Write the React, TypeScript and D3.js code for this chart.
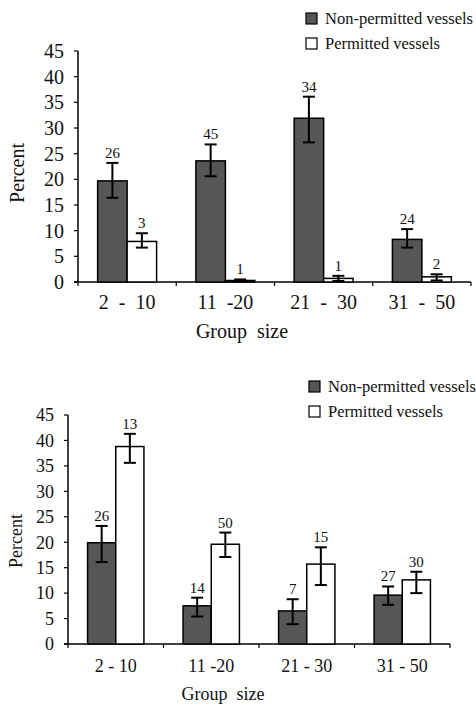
import React, { useEffect, useRef } from 'react';
import * as d3 from 'd3';

const groups = ['g1', 'g2', 'g3', 'g4'];
const seriesNames = ['Non-permitted vessels', 'Permitted vessels'];
const yTicks = [0, 5, 10, 15, 20, 25, 30, 35, 40, 45];

// top panel
const topLabels = ['2  -  10', '11  -20', '21  -  30', '31  -  50'];
const topNonPermitted = [19.7, 23.6, 31.9, 8.3];
const topNonPermittedLo = [16.4, 20.6, 27.2, 6.7];
const topNonPermittedHi = [23.2, 26.8, 36.1, 10.3];
const topNonPermittedN = ['26', '45', '34', '24'];
const topPermitted = [7.9, 0.3, 0.7, 1.0];
const topPermittedLo = [6.7, 0.1, 0.2, 0.3];
const topPermittedHi = [9.5, 0.5, 1.2, 1.5];
const topPermittedN = ['3', '1', '1', '2'];

// bottom panel
const bottomLabels = ['2 - 10', '11 -20', '21 - 30', '31 - 50'];
const botNonPermitted = [19.9, 7.5, 6.5, 9.6];
const botNonPermittedLo = [16.1, 5.4, 3.9, 7.7];
const botNonPermittedHi = [23.2, 9.1, 8.8, 11.3];
const botNonPermittedN = ['26', '14', '7', '27'];
const botPermitted = [38.8, 19.6, 15.7, 12.6];
const botPermittedLo = [35.6, 17.1, 11.6, 10.0];
const botPermittedHi = [41.3, 21.9, 19.0, 14.2];
const botPermittedN = ['13', '50', '15', '30'];

const DARK = '#565656';
const FONT = 'Liberation Serif';

type Panel = {
  x0: number; x1: number; y0: number; y1: number;
  labels: string[];
  vals: number[][]; lo: number[][]; hi: number[][]; ns: string[][];
  tickFont: number; xFont: number; xLabelY: number; titleY: number; titleX: number;
  percentX: number; percentY: number;
  legX: number; legY: number; legGap: number; legFont: number;
  padding: number;
};

const panels: Panel[] = [
  {
    x0: 78, x1: 471, y0: 282, y1: 51,
    labels: topLabels,
    vals: [topNonPermitted, topPermitted],
    lo: [topNonPermittedLo, topPermittedLo],
    hi: [topNonPermittedHi, topPermittedHi],
    ns: [topNonPermittedN, topPermittedN],
    tickFont: 20, xFont: 20, xLabelY: 309, titleY: 338, titleX: 242,
    percentX: 24, percentY: 173,
    legX: 306, legY: 13, legGap: 25, legFont: 16.5,
    padding: 0.4,
  },
  {
    x0: 68, x1: 450, y0: 644, y1: 415,
    labels: bottomLabels,
    vals: [botNonPermitted, botPermitted],
    lo: [botNonPermittedLo, botPermittedLo],
    hi: [botNonPermittedHi, botPermittedHi],
    ns: [botNonPermittedN, botPermittedN],
    tickFont: 18, xFont: 18, xLabelY: 672, titleY: 700, titleX: 223,
    percentX: 22, percentY: 541,
    legX: 309, legY: 381, legGap: 25, legFont: 16.5,
    padding: 0.41,
  },
];

const App = () => {
  const svgRef = useRef<SVGSVGElement>(null);

  useEffect(() => {
    const svg = d3.select(svgRef.current);
    svg.selectAll('*').remove();

    const txt = (g: any, size: number) =>
      g.append('text').attr('font-family', FONT).attr('font-size', size).attr('fill', '#111');

    panels.forEach((p) => {
      const g = svg.append('g');
      const x = d3.scaleBand<string>().domain(groups).range([p.x0, p.x1])
        .paddingInner(p.padding).paddingOuter(p.padding / 2);
      const xs = d3.scaleBand<number>().domain([0, 1]).range([0, x.bandwidth()]);
      const y = d3.scaleLinear().domain([0, 45]).range([p.y0, p.y1]);

      // y axis
      g.append('line').attr('x1', p.x0).attr('x2', p.x0).attr('y1', y(0)).attr('y2', y(45))
        .attr('stroke', '#000').attr('stroke-width', 1.5);
      yTicks.forEach((t) => {
        g.append('line').attr('x1', p.x0 - 4).attr('x2', p.x0).attr('y1', y(t)).attr('y2', y(t))
          .attr('stroke', '#000').attr('stroke-width', 1.2);
        txt(g, p.tickFont).attr('x', p.x0 - 14).attr('y', y(t)).attr('dy', '0.35em')
          .attr('text-anchor', 'end').text(t);
      });

      // x axis
      g.append('line').attr('x1', p.x0 - 4).attr('x2', p.x1).attr('y1', y(0)).attr('y2', y(0))
        .attr('stroke', '#000').attr('stroke-width', 1.5);
      const step = x.step();
      d3.range(groups.length + 1).forEach((i) => {
        const tx = p.x0 + i * step;
        g.append('line').attr('x1', tx).attr('x2', tx).attr('y1', y(0)).attr('y2', y(0) + 4)
          .attr('stroke', '#000').attr('stroke-width', 1.2);
      });
      groups.forEach((gr, i) => {
        txt(g, p.xFont).attr('x', x(gr)! + x.bandwidth() / 2).attr('y', p.xLabelY)
          .attr('text-anchor', 'middle').style('white-space', 'pre').text(p.labels[i]);
      });

      // bars + error bars
      [0, 1].forEach((s) => {
        groups.forEach((gr, i) => {
          const bx = x(gr)! + xs(s)!;
          const bw = xs.bandwidth();
          const v = p.vals[s][i];
          g.append('rect').attr('x', bx).attr('y', y(v)).attr('width', bw)
            .attr('height', y(0) - y(v))
            .attr('fill', s === 0 ? DARK : '#fff').attr('stroke', '#000').attr('stroke-width', 1.5);
          const cx = bx + bw / 2;
          const lo = y(p.lo[s][i]);
          const hi = y(p.hi[s][i]);
          g.append('line').attr('x1', cx).attr('x2', cx).attr('y1', lo).attr('y2', hi)
            .attr('stroke', '#000').attr('stroke-width', 2);
          [lo, hi].forEach((yy) => {
            g.append('line').attr('x1', cx - 6).attr('x2', cx + 6).attr('y1', yy).attr('y2', yy)
              .attr('stroke', '#000').attr('stroke-width', 2);
          });
          txt(g, 15).attr('x', cx).attr('y', hi - 5).attr('text-anchor', 'middle')
            .text(p.ns[s][i]);
        });
      });

      // axis titles
      txt(g, p.xFont).attr('x', p.titleX).attr('y', p.titleY).attr('text-anchor', 'middle')
        .style('white-space', 'pre').text('Group  size');
      txt(g, p.tickFont)
        .attr('transform', `translate(${p.percentX},${p.percentY}) rotate(-90)`)
        .attr('text-anchor', 'middle').text('Percent');

      // legend
      seriesNames.forEach((name, s) => {
        const ly = p.legY + s * p.legGap;
        g.append('rect').attr('x', p.legX).attr('y', ly).attr('width', 11).attr('height', 11)
          .attr('fill', s === 0 ? DARK : '#fff').attr('stroke', '#000').attr('stroke-width', 1.2);
        txt(g, p.legFont).attr('x', p.legX + 19).attr('y', ly + 11).text(name);
      });
    });
  }, []);

  return (
    <svg ref={svgRef} width={476} height={705}
      style={{ position: 'absolute', left: 0, top: 0, background: '#fff' }} />
  );
};

export default App;
